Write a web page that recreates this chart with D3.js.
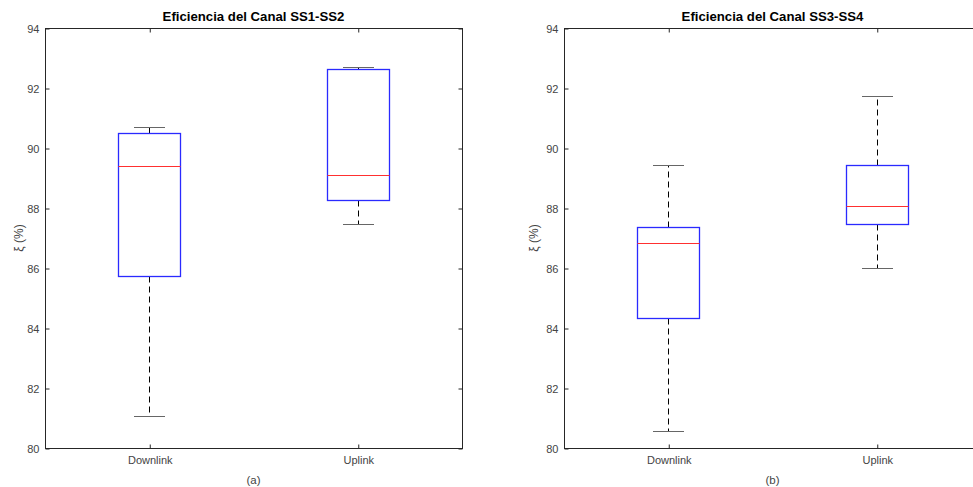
<!DOCTYPE html>
<html>
<head>
<meta charset="utf-8">
<script src="https://cdn.jsdelivr.net/npm/d3@7"></script>
<style>
  html, body { margin: 0; background: #fff; overflow: hidden; }
  svg { display: block; }
  text { font-family: "Liberation Sans", Arial, sans-serif; }
</style>
</head>
<body>
<script>
let W = 973;
let H = 487;

// data
let categories = ["Downlink", "Uplink"];
let yTicks = [80, 82, 84, 86, 88, 90, 92, 94];

let titles = ["Eficiencia del Canal SS1-SS2", "Eficiencia del Canal SS3-SS4"];
let captions = ["(a)", "(b)"];

// [lower whisker, q1, median, q3, upper whisker] per category
let statsSS12 = [
    [81.08, 85.74, 89.41, 90.49, 90.69],
    [87.46, 88.26, 89.09, 92.64, 92.69]
];
let statsSS34 = [
    [80.57, 84.32, 86.83, 87.37, 89.42],
    [86.00, 87.46, 88.07, 89.44, 91.74]
];

let panels = [
    {left: 45, labelGap: 22, title: titles[0], caption: captions[0], stats: statsSS12},
    {left: 564, labelGap: 26, title: titles[1], caption: captions[1], stats: statsSS34}
];

let marginTop = 28;
let pw = 417;
let ph = 420;

let svg = d3.select("body")
    .append("svg")
    .attr("width", W)
    .attr("height", H)

let yScale = d3.scaleLinear()
    .domain([80, 94])
    .range([ph, 0])

let xScale = d3.scalePoint()
    .domain(categories)
    .range([0, pw])
    .padding(0.5)

let boxW = 62;
let capW = 31;

panels.forEach(p => {
    let g = svg.append("g")
        .attr("transform", `translate(${p.left + 0.5},${marginTop + 0.5})`)

    // y axis left with labels, ticks inward
    let yAxis = g.append("g")
        .call(d3.axisLeft(yScale).tickValues(yTicks).tickSize(-4).tickPadding(6))
    let xAxis = g.append("g")
        .attr("transform", `translate(0,${ph})`)
        .call(d3.axisBottom(xScale).tickSize(-4).tickPadding(8))
    // mirrored ticks on top and right
    let yAxisR = g.append("g")
        .attr("transform", `translate(${pw},0)`)
        .call(d3.axisRight(yScale).tickValues(yTicks).tickSize(-4).tickFormat(""))
    let xAxisT = g.append("g")
        .call(d3.axisTop(xScale).tickSize(-4).tickFormat(""))

    ;[yAxis, xAxis, yAxisR, xAxisT].forEach(a => {
        a.select(".domain").remove()
        a.selectAll("line").attr("stroke", "#262626")
        a.selectAll("text")
            .attr("fill", "#444")
            .attr("font-size", "11px")
            .attr("font-family", "Liberation Sans, Arial, sans-serif")
    })

    g.append("rect")
        .attr("x", 0)
        .attr("y", 0)
        .attr("width", pw)
        .attr("height", ph)
        .attr("fill", "none")
        .attr("stroke", "#262626")
        .attr("stroke-width", 1)

    let boxes = g.selectAll(".box")
        .data(p.stats)
        .enter()
        .append("g")
        .attr("class", "box")
        .attr("transform", (d, i) => `translate(${Math.round(xScale(categories[i]))},0)`)

    // dashed whiskers
    boxes.append("line")
        .attr("x1", 0).attr("x2", 0)
        .attr("y1", d => Math.round(yScale(d[3])))
        .attr("y2", d => Math.round(yScale(d[4])))
        .attr("stroke", "#000")
        .attr("stroke-dasharray", "6,4")
    boxes.append("line")
        .attr("x1", 0).attr("x2", 0)
        .attr("y1", d => Math.round(yScale(d[1])))
        .attr("y2", d => Math.round(yScale(d[0])))
        .attr("stroke", "#000")
        .attr("stroke-dasharray", "6,4")

    // caps
    boxes.selectAll(".cap")
        .data(d => [d[0], d[4]])
        .enter()
        .append("line")
        .attr("x1", -capW / 2).attr("x2", capW / 2)
        .attr("y1", d => Math.round(yScale(d)))
        .attr("y2", d => Math.round(yScale(d)))
        .attr("stroke", "#666")

    boxes.append("rect")
        .attr("x", -boxW / 2)
        .attr("y", d => Math.round(yScale(d[3])))
        .attr("width", boxW)
        .attr("height", d => Math.round(yScale(d[1])) - Math.round(yScale(d[3])))
        .attr("fill", "none")
        .attr("stroke", "#2a2aff")
        .attr("stroke-width", 1.3)

    boxes.append("line")
        .attr("x1", -boxW / 2).attr("x2", boxW / 2)
        .attr("y1", d => Math.round(yScale(d[2])))
        .attr("y2", d => Math.round(yScale(d[2])))
        .attr("stroke", "#ff3030")
        .attr("stroke-width", 1.2)

    // title
    svg.append("text")
        .attr("x", p.left + pw / 2)
        .attr("y", 21)
        .attr("text-anchor", "middle")
        .attr("font-size", "13.2px")
        .attr("font-weight", "bold")
        .attr("fill", "#000")
        .text(p.title)

    // y label
    svg.append("text")
        .attr("transform", `translate(${p.left - p.labelGap},${marginTop + ph / 2}) rotate(-90)`)
        .attr("text-anchor", "middle")
        .attr("font-size", "12px")
        .attr("fill", "#444")
        .text("ξ (%)")

    // caption
    svg.append("text")
        .attr("x", p.left + pw / 2)
        .attr("y", 484)
        .attr("text-anchor", "middle")
        .attr("font-size", "11.5px")
        .attr("fill", "#444")
        .text(p.caption)
})
</script>
</body>
</html>
